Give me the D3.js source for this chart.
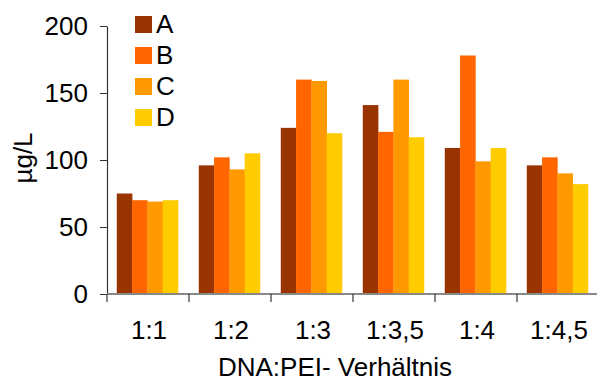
<!DOCTYPE html>
<html>
<head>
<meta charset="utf-8">
<script src="https://cdn.jsdelivr.net/npm/d3@7"></script>
<style>
  html, body { margin: 0; padding: 0; background: #fff; }
  text { font-family: "Liberation Sans", Arial, sans-serif; fill: #000; }
</style>
</head>
<body>
<svg id="chart" width="597" height="383"></svg>
<script>
// Ratios on the x axis
const categories = ["1:1", "1:2", "1:3", "1:3,5", "1:4", "1:4,5"];
// Series names and colours
const seriesNames = ["A", "B", "C", "D"];
const seriesColors = ["#993300", "#FF6600", "#FF9900", "#FFCC00"];
// Concentrations (µg/L) per series, one value per ratio
const valuesA = [75, 96, 124, 141, 109, 96];
const valuesB = [70, 102, 160, 121, 178, 102];
const valuesC = [69, 93, 159, 160, 99, 90];
const valuesD = [70, 105, 120, 117, 109, 82];
const yTicks = [0, 50, 100, 150, 200];

const seriesValues = [valuesA, valuesB, valuesC, valuesD];
const fontSize = 26;

const svg = d3.select("#chart");
const plotLeft = 107, plotRight = 599, plotTop = 26, plotBottom = 294;

const x = d3.scaleBand().domain(categories).range([plotLeft, plotRight]).paddingInner(0).paddingOuter(0);
const inner = d3.scaleBand().domain(seriesNames).range([0, x.bandwidth()])
  .paddingInner(0).paddingOuter(0.68).align(0.47);
const y = d3.scaleLinear().domain([0, 200]).range([plotBottom, plotTop]);

// Bars
const groups = svg.append("g").selectAll("g")
  .data(categories)
  .join("g")
  .attr("transform", d => `translate(${x(d)},0)`);

groups.selectAll("rect")
  .data((d, i) => seriesNames.map((s, k) => ({ s, k, v: seriesValues[k][i] })))
  .join("rect")
  .attr("x", d => inner(d.s))
  .attr("width", inner.bandwidth() + 0.3)
  .attr("y", d => y(d.v))
  .attr("height", d => y(0) - y(d.v))
  .attr("fill", d => seriesColors[d.k]);

// Y axis
const yAxis = svg.append("g")
  .attr("transform", `translate(${plotLeft},0)`)
  .call(d3.axisLeft(y).tickValues(yTicks).tickSize(7).tickPadding(12).tickSizeOuter(0));
yAxis.select(".domain").attr("stroke", "#333").attr("stroke-width", 1.2);
yAxis.selectAll(".tick line").attr("stroke", "#333");
yAxis.selectAll(".tick text")
  .attr("font-size", fontSize)
  .attr("font-family", "Liberation Sans, Arial, sans-serif")
  .attr("fill", "#000");

// X axis: line at zero with ticks at category boundaries
const xAxisG = svg.append("g");
xAxisG.append("line")
  .attr("x1", plotLeft).attr("x2", 597)
  .attr("y1", y(0)).attr("y2", y(0))
  .attr("stroke", "#888").attr("stroke-width", 2);
xAxisG.selectAll("line.bt")
  .data(categories)
  .join("line")
  .attr("class", "bt")
  .attr("x1", d => x(d)).attr("x2", d => x(d))
  .attr("y1", y(0)).attr("y2", y(0) + 8)
  .attr("stroke", "#333").attr("stroke-width", 1.2);
xAxisG.selectAll("text")
  .data(categories)
  .join("text")
  .attr("x", d => x(d) + x.bandwidth() / 2 + 1)
  .attr("y", 339)
  .attr("text-anchor", "middle")
  .attr("font-size", fontSize)
  .text(d => d);

// Axis titles
svg.append("text")
  .attr("x", 335).attr("y", 376)
  .attr("text-anchor", "middle")
  .attr("font-size", fontSize)
  .text("DNA:PEI- Verhältnis");

svg.append("text")
  .attr("transform", "translate(32,158) rotate(-90)")
  .attr("text-anchor", "middle")
  .attr("font-size", fontSize)
  .text("µg/L");

// Legend
const legend = svg.append("g").attr("transform", "translate(135,16)");
const items = legend.selectAll("g")
  .data(seriesNames)
  .join("g")
  .attr("transform", (d, i) => `translate(0,${i * 31})`);
items.append("rect")
  .attr("width", 17).attr("height", 17)
  .attr("fill", (d, i) => seriesColors[i]);
items.append("text")
  .attr("x", 21).attr("y", 17)
  .attr("font-size", fontSize)
  .text(d => d);
</script>
</body>
</html>
